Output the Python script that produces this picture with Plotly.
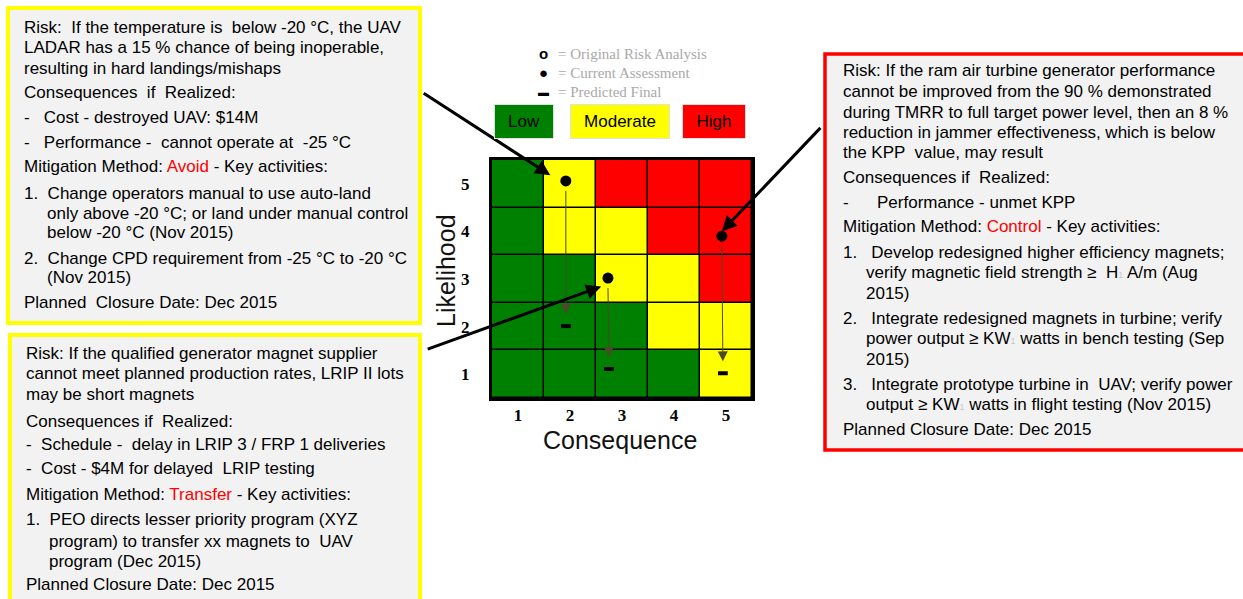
import plotly.graph_objects as go

# ---------------- DATA ----------------
consequence = [1, 2, 3, 4, 5]
likelihood = [1, 2, 3, 4, 5]
# risk level per cell (rows = likelihood 1..5, cols = consequence 1..5); 0 low, 1 moderate, 2 high
risk_level = [
    [0, 0, 0, 0, 1],
    [0, 0, 0, 1, 1],
    [0, 0, 1, 1, 2],
    [0, 1, 1, 2, 2],
    [0, 1, 2, 2, 2],
]
level_names = ["Low", "Moderate", "High"]
level_colors = ["#008000", "#ffff00", "#ff0000"]

risk_names = ["UAV LADAR", "Generator magnets", "Ram air turbine"]
current_x = [1.92, 2.73, 4.92]
current_y = [5.06, 3.02, 3.90]
final_x = [1.92, 2.75, 4.94]
final_y = [2.01, 1.11, 1.02]

legend_lines = ["= Original Risk Analysis", "= Current Assessment", "= Predicted Final"]
legend_symbols = ["<b>o</b>", "●", "▬"]

RED = '<span style="color:#ff0000">%s</span>'
FAINT = '<span style="color:#c8c8c8;font-size:9px">%s</span>'

box1_lines = [
    "Risk:  If the temperature is  below -20 °C, the UAV",
    "LADAR has a 15 % chance of being inoperable,",
    "resulting in hard landings/mishaps",
    "Consequences  if  Realized:",
    "-   Cost - destroyed UAV: $14M",
    "-   Performance -  cannot operate at  -25 °C",
    "Mitigation Method: " + RED % "Avoid" + " - Key activities:",
    "1.  Change operators manual to use auto-land",
    "only above -20 °C; or land under manual control",
    "below -20 °C (Nov 2015)",
    "2.  Change CPD requirement from -25 °C to -20 °C",
    "(Nov 2015)",
    "Planned  Closure Date: Dec 2015",
]
box2_lines = [
    "Risk: If the qualified generator magnet supplier",
    "cannot meet planned production rates, LRIP II lots",
    "may be short magnets",
    "Consequences if  Realized:",
    "-  Schedule -  delay in LRIP 3 / FRP 1 deliveries",
    "-  Cost - $4M for delayed  LRIP testing",
    "Mitigation Method: " + RED % "Transfer" + " - Key activities:",
    "1.  PEO directs lesser priority program (XYZ",
    "program) to transfer xx magnets to  UAV",
    "program (Dec 2015)",
    "Planned Closure Date: Dec 2015",
]
box3_lines = [
    "Risk: If the ram air turbine generator performance",
    "cannot be improved from the 90 % demonstrated",
    "during TMRR to full target power level, then an 8 %",
    "reduction in jammer effectiveness, which is below",
    "the KPP  value, may result",
    "Consequences if  Realized:",
    "-      Performance - unmet KPP",
    "Mitigation Method: " + RED % "Control" + " - Key activities:",
    "1.   Develop redesigned higher efficiency magnets;",
    "verify magnetic field strength ≥  H" + FAINT % "1" + " A/m (Aug",
    "2015)",
    "2.   Integrate redesigned magnets in turbine; verify",
    "power output ≥ KW" + FAINT % "1" + " watts in bench testing (Sep",
    "2015)",
    "3.   Integrate prototype turbine in  UAV; verify power",
    "output ≥ KW" + FAINT % "1" + " watts in flight testing (Nov 2015)",
    "Planned Closure Date: Dec 2015",
]

# ---------------- LAYOUT HELPERS ----------------
W, H = 1243, 599


def px(x):
    return x / W


def py(y):
    return 1 - y / H


GRID_L, GRID_R, GRID_T, GRID_B = 492, 752, 160, 398
FONT = "Liberation Sans, Arial, sans-serif"
SERIF = "Liberation Serif, Times New Roman, serif"

fig = go.Figure()

fig.add_trace(go.Heatmap(
    x=consequence, y=likelihood, z=risk_level,
    zmin=0, zmax=2,
    colorscale=[[0, level_colors[0]], [0.5, level_colors[1]], [1, level_colors[2]]],
    showscale=False, xgap=1.5, ygap=1.5, hoverinfo="skip",
))

fig.add_trace(go.Scatter(
    x=current_x, y=current_y, mode="markers", text=risk_names,
    marker=dict(symbol="circle", size=11, color="black"),
    showlegend=False, hoverinfo="text",
))
fig.add_trace(go.Scatter(
    x=final_x, y=final_y, mode="markers", text=risk_names,
    marker=dict(symbol="line-ew", size=7, line=dict(width=4, color="black")),
    showlegend=False, hoverinfo="text",
))

annotations = []
# thin arrows current -> predicted
for cx, cy, fx, fy in zip(current_x, current_y, final_x, final_y):
    annotations.append(dict(
        x=fx, y=fy + 0.25, ax=cx, ay=cy - 0.18, xref="x", yref="y", axref="x", ayref="y",
        text="", showarrow=True, arrowhead=2, arrowsize=2, arrowwidth=1,
        arrowcolor="#4a4a28", standoff=0, startstandoff=0,
    ))

# thick arrows from text boxes to current assessment points (pixel offsets)
thick_offsets = [(-128, -83, -0.30, 0.12), (-175, 63, -0.13, -0.18), (100, -105, 0.0, 0.1)]
for (ox, oy, dx, dy), cx, cy in zip(thick_offsets, current_x, current_y):
    annotations.append(dict(
        x=cx + dx, y=cy + dy, xref="x", yref="y", ax=ox, ay=oy,
        text="", showarrow=True, arrowhead=2, arrowsize=1.0, arrowwidth=3,
        arrowcolor="black", standoff=0,
    ))


def label(x, y, text, **kw):
    d = dict(x=px(x), y=py(y), xref="paper", yref="paper", text=text, showarrow=False,
             xanchor="center", yanchor="middle")
    d.update(kw)
    annotations.append(d)


# axis titles
label(446, 271, "Likelihood", textangle=-90, font=dict(family=FONT, size=25, color="#111"))
label(620, 440, "Consequence", font=dict(family=FONT, size=25, color="#111"))

# symbol legend
for sym, txt, yy, fs in zip(legend_symbols, legend_lines, [54, 73, 92], [15, 15, 11]):
    label(543, yy, sym, font=dict(family=FONT, size=fs, color="black"))
    label(556, yy, txt, xanchor="left", font=dict(family=SERIF, size=15, color="#a9a9a9"))

# colour legend boxes
for name, col, cx, wd in zip(level_names, level_colors, [524, 620, 714], [58, 98, 62]):
    label(cx, 121.5, name, bgcolor=col, width=wd, height=33, borderpad=0,
          bordercolor="#e0e0e0", borderwidth=1, font=dict(family=FONT, size=17, color="black"))

# text box lines
box1_pos = [(22, 27), (22, 47), (22, 69), (22, 92), (22, 117), (22, 143), (22, 166),
            (22, 193), (45, 213), (45, 232), (22, 258), (45, 278), (22, 302)]
box2_pos = [(24, 353), (24, 374), (24, 394), (24, 421), (24, 444), (24, 468), (24, 494),
            (24, 519), (47, 541), (47, 561), (24, 584)]
box3_pos = [(841, 71), (841, 91), (841, 112), (841, 132), (841, 152), (841, 178), (841, 202),
            (841, 226), (841, 252), (864, 272), (864, 293), (841, 318), (864, 338), (864, 359),
            (841, 384), (864, 404), (841, 429)]
for lines, pos in ((box1_lines, box1_pos), (box2_lines, box2_pos), (box3_lines, box3_pos)):
    for t, (x, y) in zip(lines, pos):
        label(x, y, t, xanchor="left", font=dict(family=FONT, size=17, color="black"))

shapes = [
    dict(type="rect", xref="paper", yref="paper", x0=px(8), x1=px(420), y0=py(323), y1=py(8),
         line=dict(color="#ffff00", width=4), fillcolor="#f2f2f2", layer="below"),
    dict(type="rect", xref="paper", yref="paper", x0=px(10), x1=px(420), y0=py(620), y1=py(335),
         line=dict(color="#ffff00", width=4), fillcolor="#f2f2f2", layer="below"),
    dict(type="rect", xref="paper", yref="paper", x0=px(825), x1=px(1260), y0=py(450), y1=py(54),
         line=dict(color="#ff0000", width=3.5), fillcolor="#f2f2f2", layer="below"),
]

fig.update_layout(
    width=W, height=H, margin=dict(l=0, r=0, t=0, b=0),
    paper_bgcolor="white", plot_bgcolor="black",
    annotations=annotations, shapes=shapes, showlegend=False,
    xaxis=dict(domain=[px(GRID_L), px(GRID_R)], range=[0.5, 5.5], tickvals=consequence,
               showgrid=False, zeroline=False, showline=True, mirror=True, linewidth=3,
               linecolor="black", ticks="", ticklabelstandoff=0,
               tickfont=dict(family=SERIF, size=17, color="black", weight="bold")),
    yaxis=dict(domain=[py(GRID_B), py(GRID_T)], range=[0.5, 5.5], tickvals=likelihood,
               showgrid=False, zeroline=False, showline=True, mirror=True, linewidth=3,
               linecolor="black", ticks="", ticklabelstandoff=16,
               tickfont=dict(family=SERIF, size=17, color="black", weight="bold")),
)

fig.write_html("out.html", config={"displayModeBar": False},
               post_script="document.body.style.margin='0';")
